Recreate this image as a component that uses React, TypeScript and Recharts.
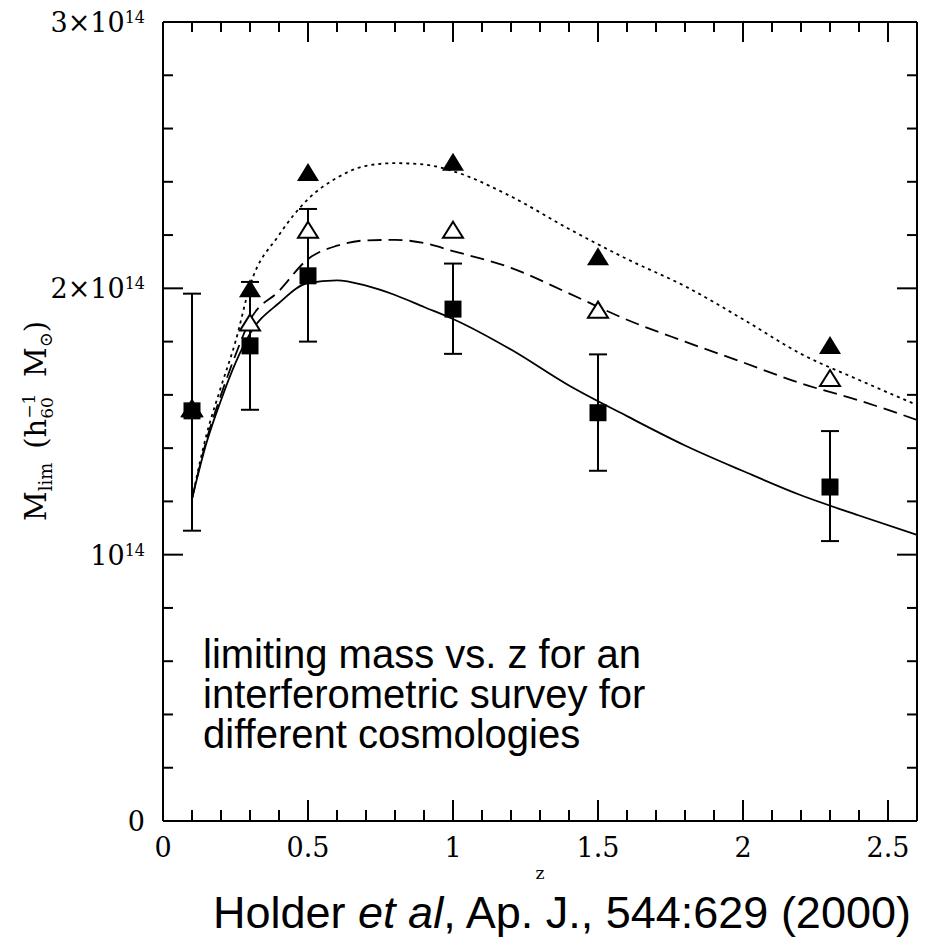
import React from "react";
import { ComposedChart, Line, Scatter, ErrorBar, XAxis, YAxis } from "recharts";

// model curves, sampled along z
const curveZ = [0.1, 0.15, 0.2, 0.25, 0.3, 0.4, 0.5, 0.6, 0.7, 0.8, 0.9, 1.0, 1.2, 1.4, 1.6, 1.8, 2.0, 2.2, 2.4, 2.6];
const solidM = [1.21, 1.42, 1.58, 1.72, 1.83, 1.945, 2.02, 2.03, 2.01, 1.975, 1.93, 1.885, 1.77, 1.635, 1.52, 1.41, 1.314, 1.223, 1.147, 1.074];
const dashedM = [1.21, 1.43, 1.6, 1.75, 1.88, 1.99, 2.11, 2.16, 2.18, 2.182, 2.17, 2.14, 2.077, 1.981, 1.882, 1.8, 1.722, 1.643, 1.579, 1.506];
const dottedM = [1.21, 1.45, 1.63, 1.8, 2.01, 2.2, 2.335, 2.415, 2.46, 2.47, 2.465, 2.44, 2.345, 2.223, 2.11, 2.008, 1.884, 1.754, 1.656, 1.562];

// simulated survey points (units of 1e14)
const pointZ = [0.1, 0.3, 0.5, 1.0, 1.5, 2.3];
const squareM = [1.54, 1.784, 2.047, 1.922, 1.533, 1.254];
const squareErrLo = [0.45, 0.24, 0.247, 0.168, 0.218, 0.203];
const squareErrHi = [0.44, 0.24, 0.251, 0.171, 0.219, 0.21];
const filledTriM = [1.55, 2.0, 2.437, 2.475, 2.12, 1.787];
const openTriM = [1.55, 1.872, 2.22, 2.22, 1.92, 1.663];

const xTicks = [0, 0.1, 0.2, 0.3, 0.4, 0.5, 0.6, 0.7, 0.8, 0.9, 1.0, 1.1, 1.2, 1.3, 1.4, 1.5, 1.6, 1.7, 1.8, 1.9, 2.0, 2.1, 2.2, 2.3, 2.4, 2.5, 2.6];
const xMajor = [0, 0.5, 1, 1.5, 2, 2.5];
const xMajorLabels = ["0", "0.5", "1", "1.5", "2", "2.5"];
const yTicks = [0, 0.2, 0.4, 0.6, 0.8, 1.0, 1.2, 1.4, 1.6, 1.8, 2.0, 2.2, 2.4, 2.6, 2.8, 3.0];
const yMajor = [0, 1, 2, 3];
const yMantissa = ["0", "10", "2×10", "3×10"];
const yExponent = ["", "14", "14", "14"];

const curves = curveZ.map((z, i) => ({ z, solid: solidM[i], dashed: dashedM[i], dotted: dottedM[i] }));
const squares = pointZ.map((z, i) => ({ z, m: squareM[i], err: [squareErrLo[i], squareErrHi[i]] }));
const filledTris = pointZ.map((z, i) => ({ z, m: filledTriM[i] }));
const openTris = pointZ.map((z, i) => ({ z, m: openTriM[i] }));

const SERIF = "'DejaVu Serif', serif";
const SANS = "'Liberation Sans', Arial, sans-serif";
const MAJOR = 20;
const MINOR = 10;
const FRAME = { stroke: "#000", strokeWidth: 2 };

const majorIndex = (list: number[], v: number) => list.findIndex((m) => Math.abs(m - v) < 1e-6);

// bottom axis band is 1px tall, so tick y sits one pixel below the frame line
const BottomTick = ({ x, y, payload }: any) => {
  const idx = majorIndex(xMajor, payload.value);
  const len = idx >= 0 ? MAJOR : MINOR;
  const base = y - 1;
  return (
    <g>
      <line x1={x} y1={base} x2={x} y2={base - len} stroke="#000" strokeWidth={2} />
      {idx >= 0 && (
        <text x={x} y={base + 37} textAnchor="middle" fontFamily={SERIF} fontSize={27} fill="#000">
          {xMajorLabels[idx]}
        </text>
      )}
    </g>
  );
};

const TopTick = ({ x, y, payload }: any) => {
  const len = majorIndex(xMajor, payload.value) >= 0 ? MAJOR : MINOR;
  return <line x1={x} y1={y} x2={x} y2={y + len} stroke="#000" strokeWidth={2} />;
};

const LeftTick = ({ x, y, payload }: any) => {
  const idx = majorIndex(yMajor, payload.value);
  const len = idx >= 0 ? MAJOR : MINOR;
  return (
    <g>
      <line x1={x} y1={y} x2={x + len} y2={y} stroke="#000" strokeWidth={2} />
      {idx >= 0 && (
        <text x={x - 18} y={y + 10} textAnchor="end" fontFamily={SERIF} fontSize={27} fill="#000">
          {yMantissa[idx]}
          {yExponent[idx] && (
            <tspan fontSize={16} dy={-9}>
              {yExponent[idx]}
            </tspan>
          )}
        </text>
      )}
    </g>
  );
};

const RightTick = ({ x, y, payload }: any) => {
  const len = majorIndex(yMajor, payload.value) >= 0 ? MAJOR : MINOR;
  return <line x1={x} y1={y} x2={x - len} y2={y} stroke="#000" strokeWidth={2} />;
};

const SquareMark = ({ cx, cy }: any) => <rect x={cx - 8.5} y={cy - 8.5} width={17} height={17} fill="#000" />;

const FilledTri = ({ cx, cy }: any) => (
  <polygon points={`${cx},${cy - 9} ${cx + 11},${cy + 9} ${cx - 11},${cy + 9}`} fill="#000" />
);

const OpenTri = ({ cx, cy }: any) => (
  <polygon
    points={`${cx},${cy - 8} ${cx + 10},${cy + 8} ${cx - 10},${cy + 8}`}
    fill="#fff"
    stroke="#000"
    strokeWidth={2}
  />
);

export default function App() {
  return (
    <div style={{ position: "absolute", left: 0, top: 0, width: 925, height: 938, background: "#fff" }}>
      <ComposedChart width={925} height={938} data={curves} margin={{ top: 21, right: 7, bottom: 116, left: 162 }}>
        <XAxis
          xAxisId="bottom"
          dataKey="z"
          type="number"
          domain={[0, 2.6]}
          ticks={xTicks}
          interval={0}
          height={1}
          tickSize={0}
          tickMargin={0}
          axisLine={FRAME}
          tick={<BottomTick />}
        />
        <XAxis
          xAxisId="top"
          orientation="top"
          dataKey="z"
          type="number"
          domain={[0, 2.6]}
          ticks={xTicks}
          interval={0}
          height={1}
          tickSize={0}
          tickMargin={0}
          axisLine={FRAME}
          tick={<TopTick />}
        />
        <YAxis
          yAxisId="left"
          type="number"
          domain={[0, 3]}
          allowDataOverflow
          ticks={yTicks}
          interval={0}
          width={1}
          tickSize={0}
          tickMargin={0}
          axisLine={FRAME}
          tick={<LeftTick />}
        />
        <YAxis
          yAxisId="right"
          orientation="right"
          type="number"
          domain={[0, 3]}
          allowDataOverflow
          ticks={yTicks}
          interval={0}
          width={1}
          tickSize={0}
          tickMargin={0}
          axisLine={FRAME}
          tick={<RightTick />}
        />

        <Line xAxisId="bottom" yAxisId="left" type="monotone" dataKey="solid" stroke="#000" strokeWidth={1.8} dot={false} isAnimationActive={false} />
        <Line xAxisId="bottom" yAxisId="left" type="monotone" dataKey="dashed" stroke="#000" strokeWidth={1.8} strokeDasharray="14 7" dot={false} isAnimationActive={false} />
        <Line xAxisId="bottom" yAxisId="left" type="monotone" dataKey="dotted" stroke="#000" strokeWidth={1.8} strokeDasharray="3 4" dot={false} isAnimationActive={false} />

        <Scatter xAxisId="bottom" yAxisId="left" data={openTris} dataKey="m" shape={<OpenTri />} isAnimationActive={false} />
        <Scatter xAxisId="bottom" yAxisId="left" data={squares} dataKey="m" shape={<SquareMark />} isAnimationActive={false}>
          <ErrorBar dataKey="err" direction="y" width={9} stroke="#000" strokeWidth={2} isAnimationActive={false} />
        </Scatter>
        <Scatter xAxisId="bottom" yAxisId="left" data={filledTris} dataKey="m" shape={<FilledTri />} isAnimationActive={false} />
      </ComposedChart>

      <svg width={925} height={938} style={{ position: "absolute", left: 0, top: 0, pointerEvents: "none" }}>
        <text transform="translate(46, 421) rotate(-90)" textAnchor="middle" fontFamily={SERIF} fontSize={29} fill="#000">
          M
          <tspan fontSize={18} dy={6}>lim</tspan>
          <tspan dy={-6} dx={14}>(h</tspan>
          <tspan fontSize={17} dy={-11}>−1</tspan>
          <tspan fontSize={17} dx={-25} dy={18}>60</tspan>
          <tspan dy={-7} dx={20}>M</tspan>
          <tspan fontSize={18} dy={6}>⊙</tspan>
          <tspan dy={-6}>)</tspan>
        </text>
        <text x={540} y={879} textAnchor="middle" fontFamily={SERIF} fontSize={17} fill="#000">
          z
        </text>
        <text fontFamily={SANS} fontSize={40} fill="#000">
          <tspan x={203} y={668}>limiting mass vs. z for an</tspan>
          <tspan x={203} y={708}>interferometric survey for</tspan>
          <tspan x={203} y={748}>different cosmologies</tspan>
        </text>
        <text x={213} y={928} fontFamily={SANS} fontSize={45} fill="#000">
          Holder <tspan fontStyle="italic">et al</tspan>, Ap. J., 544:629 (2000)
        </text>
      </svg>
    </div>
  );
}
